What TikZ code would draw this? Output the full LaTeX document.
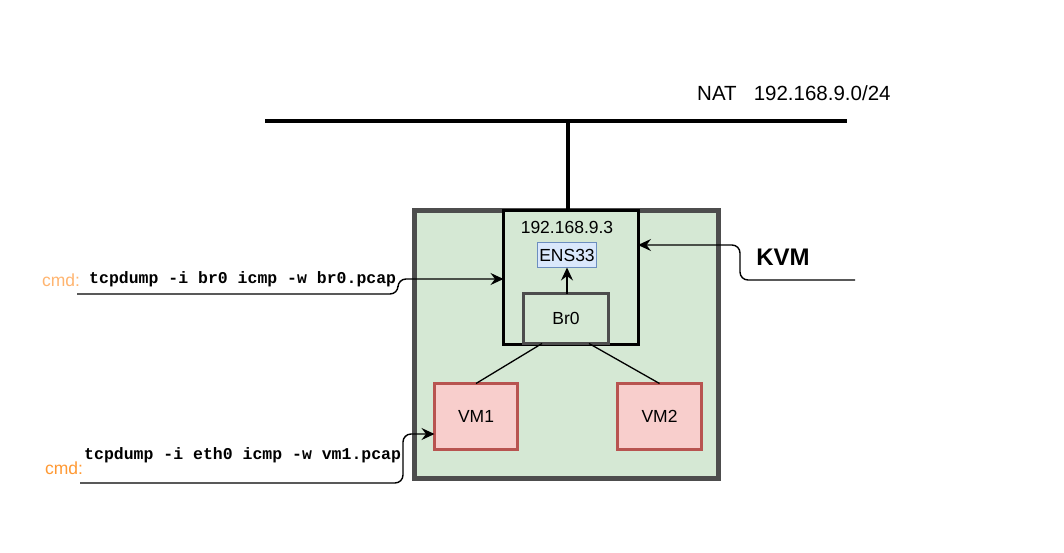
\documentclass[tikz,border=0pt]{standalone}
\usepackage{fontspec}
\setmainfont{Liberation Sans}
\setmonofont{Liberation Mono}
\usetikzlibrary{arrows.meta}
\definecolor{kvmfill}{HTML}{D5E8D4}
\definecolor{kvmline}{HTML}{4D4D4D}
\definecolor{ensfill}{HTML}{DAE8FC}
\definecolor{ensline}{HTML}{6C8EBF}
\definecolor{vmfill}{HTML}{F8CECC}
\definecolor{vmline}{HTML}{B85450}
\definecolor{cmdA}{HTML}{FFB570}
\definecolor{cmdB}{HTML}{FF9933}
\tikzset{
  lbl/.style={font=\fontsize{17.5}{20}\selectfont, inner sep=0pt},
  boxbase/.style={inner sep=0pt, outer sep=0pt, lbl},
  vmbox/.style={boxbase, draw=vmline, fill=vmfill, line width=2.5pt},
  conn/.style={line width=1.4pt, rounded corners=8pt, -{Stealth[length=13pt,width=12pt,inset=4.5pt]}},
  cmdtxt/.style={font=\ttfamily\bfseries\fontsize{16.5}{19}\selectfont, inner sep=0pt, anchor=west},
  cmdlbl/.style={font=\fontsize{17.5}{20}\selectfont, inner sep=0pt},
}
\begin{document}
\begin{tikzpicture}[x=1pt,y=-1pt]
\fill[white] (0,0) rectangle (1064,552);
\useasboundingbox (0,0) rectangle (1064,552);
% bus
\coordinate (busL) at (265,121);
\coordinate (busR) at (847,121);
\coordinate (bj) at (568,121);
\draw[line width=4pt] (busL) -- (busR);
\node[lbl, font=\fontsize{20.5}{24}\selectfont, anchor=west] (nat) at (697,93) {NAT~~~192.168.9.0/24};
% KVM host
\node[boxbase, draw=kvmline, fill=kvmfill, line width=5pt, minimum width=304pt, minimum height=268pt] (kvm) at (566,344) {};
\node[boxbase, draw=black, fill=kvmfill, line width=3pt, minimum width=134.5pt, minimum height=134pt] (inner) at (570.75,277.5) {};
\draw[line width=4pt] (bj) -- (bj |- inner.north);
\node[lbl] (ip) at (567,227) {192.168.9.3};
\node[boxbase, draw=ensline, fill=ensfill, line width=1.5pt, minimum width=59pt, minimum height=25pt] (ens) at (567,255) {ENS33};
\node[boxbase, draw=kvmline, fill=kvmfill, line width=2.5pt, minimum width=85pt, minimum height=50pt] (br) at (566,318.5) {Br0};
\draw[line width=1.4pt, -{Stealth[length=13pt,width=12pt,inset=4.5pt]}] (br.north -| ens.south) -- (ens.south);
\node[vmbox, minimum width=83pt, minimum height=66pt] (vm1) at (476,416.5) {VM1};
\node[vmbox, minimum width=84pt, minimum height=66pt] (vm2) at (659.5,416.5) {VM2};
\draw[line width=1.3pt] ([xshift=-24pt]br.south) -- (vm1.north);
\draw[line width=1.3pt] ([xshift=23pt]br.south) -- (vm2.north);
% KVM label
\node[font=\bfseries\fontsize{24}{28}\selectfont, inner sep=0pt] (kvmlbl) at (783,257) {KVM};
\coordinate (ks) at (855,280);
\draw[conn] (ks) -- ++(-115,0) -- ++(0,-35) coordinate (k1) -- (k1 -| inner.east);
% commands
\node[cmdlbl, text=cmdA] (cmd1) at (61,280) {cmd:};
\node[cmdtxt] (t1) at (89,279) {tcpdump -i br0 icmp -w br0.pcap};
\coordinate (c1s) at (77,294);
\draw[conn] (c1s) -- ++(321,0) -- ++(0,-15) coordinate (k2) -- (k2 -| inner.west);
\node[cmdlbl, text=cmdB] (cmd2) at (64,468) {cmd:};
\node[cmdtxt] (t2) at (84,455) {tcpdump -i eth0 icmp -w vm1.pcap};
\coordinate (c2s) at (80,483);
\draw[conn] (c2s) -- ++(323,0) -- ++(0,-49) coordinate (k3) -- (k3 -| vm1.west);
\end{tikzpicture}
\end{document}
